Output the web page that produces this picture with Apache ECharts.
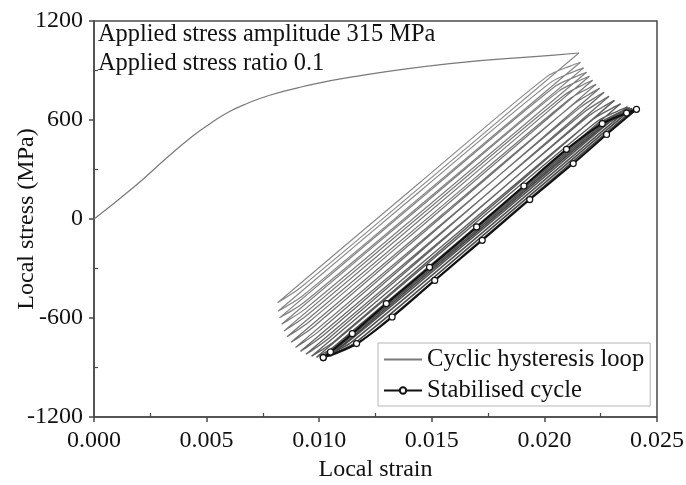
<!DOCTYPE html>
<html>
<head>
<meta charset="utf-8">
<style>
  html, body { margin: 0; padding: 0; background: #fff; }
  #chart { width: 686px; height: 485px; }
</style>
<script src="https://cdn.jsdelivr.net/npm/echarts@6/dist/echarts.min.js"></script>
</head>
<body>
<div id="chart"></div>
<script>
// Axis ranges: [min, max, major step]
const strainRange = [0, 0.025, 0.005];
const stressRange = [-1200, 1200, 600];
const strainMinorTicks = [0.0025, 0.0075, 0.0125, 0.0175, 0.0225];
const stressMinorTicks = [-900, -300, 300, 900];

const annotationLines = ['Applied stress amplitude 315 MPa', 'Applied stress ratio 0.1'];
const seriesNames = ['Cyclic hysteresis loop', 'Stabilised cycle'];

// First (monotonic) loading branch: [strain, stress in MPa]
const monotonicLoading = [
  [0, 0], [0.00176, 192], [0.00326, 374], [0.0044, 505], [0.0052, 582],
  [0.0060, 650], [0.0068, 700], [0.0078, 750], [0.0092, 800], [0.0114, 860],
  [0.0158, 942], [0.0203, 992], [0.02153, 1006]
];

// Successive cycles: unloading from peak to valley, then reloading to next peak
const cycle01 = [[0.02153, 1006], [0.01497, 249], [0.00916, -417], [0.00842, -485], [0.00815, -508], [0.01447, 221], [0.02011, 863], [0.02117, 928], [0.02160, 950]];
const cycle02 = [[0.02160, 950], [0.01504, 196], [0.00924, -468], [0.00846, -536], [0.00817, -559], [0.01457, 179], [0.02028, 828], [0.02132, 894], [0.02174, 916]];
const cycle03 = [[0.02174, 916], [0.01515, 159], [0.00931, -508], [0.00853, -576], [0.00824, -599], [0.01469, 145], [0.02044, 800], [0.02146, 867], [0.02187, 889]];
const cycle04 = [[0.02187, 889], [0.01524, 126], [0.00937, -546], [0.00861, -615], [0.00833, -638], [0.01485, 114], [0.02064, 775], [0.02161, 842], [0.02200, 865]];
const cycle05 = [[0.02200, 865], [0.01533, 94], [0.00944, -585], [0.00871, -655], [0.00844, -678], [0.01503, 82], [0.02087, 750], [0.02178, 818], [0.02214, 841]];
const cycle06 = [[0.02214, 841], [0.01547, 64], [0.00957, -621], [0.00884, -691], [0.00857, -714], [0.01521, 51], [0.02109, 724], [0.02196, 793], [0.02229, 816]];
const cycle07 = [[0.02229, 816], [0.01563, 35], [0.00975, -653], [0.00902, -724], [0.00875, -747], [0.01543, 23], [0.02133, 700], [0.02215, 769], [0.02245, 792]];
const cycle08 = [[0.02245, 792], [0.01581, 7], [0.00995, -684], [0.00922, -755], [0.00895, -778], [0.01566, -5], [0.02158, 675], [0.02236, 745], [0.02265, 768]];
const cycle09 = [[0.02265, 768], [0.01602, -17], [0.01016, -708], [0.00944, -778], [0.00917, -802], [0.01588, -29], [0.02180, 651], [0.02258, 721], [0.02287, 744]];
const cycle10 = [[0.02287, 744], [0.01625, -38], [0.01040, -726], [0.00968, -797], [0.00941, -820], [0.01609, -51], [0.02199, 627], [0.02281, 696], [0.02311, 719]];
const cycle11 = [[0.02311, 719], [0.01652, -57], [0.01069, -739], [0.00994, -809], [0.00966, -832], [0.01630, -67], [0.02218, 606], [0.02305, 675], [0.02338, 698]];
const cycle12 = [[0.02338, 698], [0.01681, -70], [0.01098, -746], [0.01018, -815], [0.00988, -838], [0.01647, -79], [0.02232, 589], [0.02330, 657], [0.02369, 680]];
const cycle13 = [[0.02369, 680], [0.01710, -79], [0.01125, -747], [0.01042, -815], [0.01010, -838], [0.01666, -82], [0.02248, 583], [0.02342, 651], [0.02379, 674]];
const cycle14 = [[0.02379, 674], [0.01726, -81], [0.01145, -745], [0.01057, -813], [0.01022, -836], [0.01675, -83], [0.02256, 580], [0.02351, 647], [0.02389, 670]];
const cycle15 = [[0.02389, 670], [0.01742, -82], [0.01166, -744], [0.01071, -811], [0.01034, -834], [0.01685, -84], [0.02264, 577], [0.02361, 644], [0.02399, 667]];
const cycle16 = [[0.02399, 667], [0.01758, -83], [0.01186, -742], [0.01086, -810], [0.01046, -832], [0.01695, -84], [0.02273, 575], [0.02370, 642], [0.02409, 665]];

// Stabilised cycle (marked points): valley -> peak -> valley
const stabilisedCycle = [
  [0.01018, -840], [0.01050, -806], [0.01147, -695], [0.01298, -513], [0.01490, -293],
  [0.01699, -48], [0.01909, 200], [0.02098, 422], [0.02257, 578], [0.02365, 642],
  [0.02409, 665], [0.02276, 512], [0.02128, 336], [0.01935, 118], [0.01724, -129],
  [0.01513, -372], [0.01324, -594], [0.01166, -755], [0.01018, -840]
];

const cycles = [cycle01, cycle02, cycle03, cycle04, cycle05, cycle06, cycle07, cycle08,
                cycle09, cycle10, cycle11, cycle12, cycle13, cycle14, cycle15, cycle16];
// grey shade and stroke per cycle, getting darker as the response settles
const cycleShades = ['#8a8a8a', '#868686', '#828282', '#7e7e7e', '#7a7a7a', '#767676', '#727272', '#6e6e6e',
                     '#6a6a6a', '#666666', '#616161', '#5c5c5c', '#555555', '#505050', '#4b4b4b', '#464646'];
const cycleWidths = [1.2, 1.2, 1.2, 1.2, 1.2, 1.2, 1.2, 1.2, 1.3, 1.3, 1.4, 1.4, 1.6, 1.6, 1.6, 1.6];

const FONT = '"Liberation Serif", "Times New Roman", serif';
const AXIS_COLOR = '#4a4a4a';

const chart = echarts.init(document.getElementById('chart'), null, { renderer: 'canvas' });

const series = [];
series.push({
  name: seriesNames[0], type: 'line', data: monotonicLoading, smooth: 0.5,
  showSymbol: false, symbol: 'none', lineStyle: { color: '#7a7a7a', width: 1.2 },
  itemStyle: { color: '#7a7a7a' }, z: 2
});
cycles.forEach((c, i) => {
  series.push({
    name: seriesNames[0], type: 'line', data: c, smooth: 0.3,
    showSymbol: false, symbol: 'none',
    lineStyle: { color: cycleShades[i], width: cycleWidths[i] },
    itemStyle: { color: cycleShades[i] }, z: 2
  });
});
series.push({
  name: seriesNames[1], type: 'line', data: stabilisedCycle, smooth: 0.3,
  symbol: 'circle', symbolSize: 6, showSymbol: true,
  lineStyle: { color: '#111', width: 2 },
  itemStyle: { color: '#fff', borderColor: '#111', borderWidth: 1.2 }, z: 5
});

chart.setOption({
  animation: false,
  backgroundColor: '#fff',
  textStyle: { fontFamily: FONT },
  grid: {
    left: 94, right: 29, top: 21, bottom: 68, outerBoundsMode: 'none', containLabel: false,
    show: true, borderColor: AXIS_COLOR, borderWidth: 1.5, backgroundColor: 'transparent'
  },
  xAxis: [{
    type: 'value', min: strainRange[0], max: strainRange[1], interval: strainRange[2],
    name: 'Local strain', nameLocation: 'middle', nameGap: 41, nameMoveOverlap: false,
    nameTextStyle: { fontFamily: FONT, fontSize: 24, color: '#111' },
    axisLine: { show: true, onZero: false, lineStyle: { color: AXIS_COLOR, width: 1.5 } },
    axisTick: { show: true, inside: false, length: 5, lineStyle: { color: AXIS_COLOR, width: 1.5 } },
    axisLabel: { fontFamily: FONT, fontSize: 24, color: '#111', margin: 12, formatter: v => v.toFixed(3) },
    splitLine: { show: false }
  }, {
    type: 'value', min: strainRange[0], max: strainRange[1], position: 'bottom',
    axisLine: { show: false, onZero: false },
    axisTick: { show: true, inside: true, length: 4, customValues: strainMinorTicks, lineStyle: { color: AXIS_COLOR, width: 1.2 } },
    axisLabel: { show: false }, splitLine: { show: false }
  }],
  yAxis: [{
    type: 'value', min: stressRange[0], max: stressRange[1], interval: stressRange[2],
    name: 'Local stress (MPa)', nameLocation: 'middle', nameGap: 55, nameMoveOverlap: false,
    nameTextStyle: { fontFamily: FONT, fontSize: 24, color: '#111' },
    axisLine: { show: true, onZero: false, lineStyle: { color: AXIS_COLOR, width: 1.5 } },
    axisTick: { show: true, inside: false, length: 5, lineStyle: { color: AXIS_COLOR, width: 1.5 } },
    axisLabel: { fontFamily: FONT, fontSize: 24, color: '#111', margin: 11, formatter: v => String(v) },
    splitLine: { show: false }
  }, {
    type: 'value', min: stressRange[0], max: stressRange[1], position: 'left',
    axisLine: { show: false, onZero: false },
    axisTick: { show: true, inside: true, length: 4, customValues: stressMinorTicks, lineStyle: { color: AXIS_COLOR, width: 1.2 } },
    axisLabel: { show: false }, splitLine: { show: false }
  }],
  legend: {
    data: [
      { name: seriesNames[0], itemStyle: { opacity: 0 } },
      { name: seriesNames[1] }
    ],
    orient: 'vertical', left: 378, top: 343,
    itemWidth: 38, itemHeight: 8, itemGap: 6,
    padding: [4, 6, 3, 5],
    borderColor: '#b5b5b5', borderWidth: 1, backgroundColor: '#fff',
    textStyle: { fontFamily: FONT, fontSize: 24.6, color: '#111' }
  },
  graphic: [
    { type: 'text', left: 98, top: 23, z: 10, style: { text: annotationLines[0], font: '24.4px ' + FONT, fill: '#111' } },
    { type: 'text', left: 98, top: 51.5, z: 10, style: { text: annotationLines[1], font: '24.4px ' + FONT, fill: '#111' } }
  ],
  series: series
});
</script>
</body>
</html>
